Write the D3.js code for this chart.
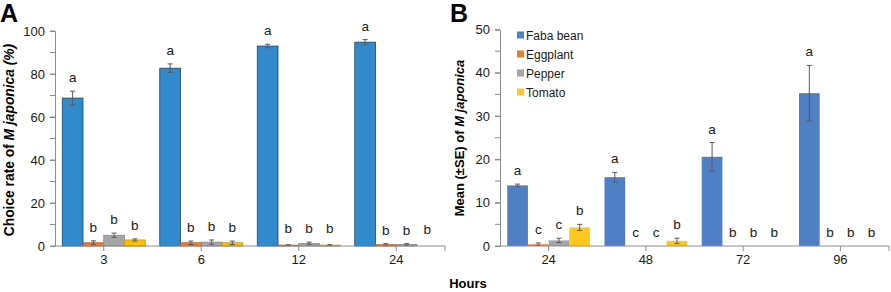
<!DOCTYPE html>
<html><head><meta charset="utf-8">
<script src="https://cdn.jsdelivr.net/npm/d3@7"></script>
<style>
body{margin:0;background:#fff;}
svg{display:block;font-family:"Liberation Sans",Arial,sans-serif;}
</style></head>
<body>
<svg id="c" width="891" height="292"></svg>
<script>
const series = ["Faba bean","Eggplant","Pepper","Tomato"];
// Panel A
const hoursA = ["3","6","12","24"];
const faba_A = [68.8, 82.7, 93.0, 94.8];
const eggplant_A = [1.5, 1.5, 0.4, 0.6];
const pepper_A = [5.0, 1.8, 1.2, 0.7];
const tomato_A = [2.8, 1.5, 0.4, 0.0];
const fabaErr_A = [3.2, 2.0, 0.8, 1.2];
const eggplantErr_A = [0.9, 0.8, 0.2, 0.5];
const pepperErr_A = [1.0, 1.0, 0.6, 0.4];
const tomatoErr_A = [0.5, 0.8, 0.2, 0.0];
const letters_A = [["a","b","b","b"],["a","b","b","b"],["a","b","b","b"],["a","b","b","b"]];
const ticksA = [0,20,40,60,80,100];
// Panel B
const hoursB = ["24","48","72","96"];
const faba_B = [14.0, 15.9, 20.6, 35.3];
const eggplant_B = [0.4, 0, 0, 0];
const pepper_B = [1.3, 0, 0, 0];
const tomato_B = [4.3, 1.2, 0, 0];
const fabaErr_B = [0.3, 1.1, 3.3, 6.4];
const eggplantErr_B = [0.3, 0, 0, 0];
const pepperErr_B = [0.5, 0, 0, 0];
const tomatoErr_B = [0.7, 0.6, 0, 0];
const letters_B = [["a","c","c","b"],["a","c","c","b"],["a","b","b","b"],["a","b","b","b"]];
const ticksB = [0,10,20,30,40,50];

const svg = d3.select("#c");
const axisCol = "#8c8c8c";
const textCol = "#1a1a1a";

function panel(cfg){
  const g = svg.append("g");
  const x0 = d3.scaleBand().domain(cfg.cats).range([cfg.x0, cfg.x1]).padding(0);
  const x1 = d3.scaleBand().domain(series).range([0, x0.bandwidth()]).paddingInner(0).paddingOuter(0.35);
  const y = d3.scaleLinear().domain([0, cfg.max]).range([246, cfg.yTop]);
  // minor ticks
  const minor = d3.range(0, cfg.max + 0.001, cfg.minorStep);
  g.selectAll(".mt").data(minor).join("line")
    .attr("x1", cfg.x0 - 5).attr("x2", cfg.x0).attr("y1", d=>y(d)).attr("y2", d=>y(d))
    .attr("stroke", axisCol).attr("stroke-width", 1);
  // y axis
  const ya = d3.axisLeft(y).tickValues(cfg.ticks).tickSize(5).tickPadding(5);
  const yg = g.append("g").attr("transform", `translate(${cfg.x0},0)`).call(ya);
  yg.select(".domain").attr("stroke", axisCol);
  yg.selectAll(".tick line").attr("stroke", axisCol);
  yg.selectAll("text").attr("font-size", 13).attr("fill", textCol);
  // bars
  const rows = cfg.cats.map((c,i)=>series.map((s,j)=>({c, s, i, j, v: cfg.vals[j][i], e: cfg.errs[j][i], l: cfg.letters[i][j]})));
  const flat = rows.flat();
  g.selectAll(".bar").data(flat).join("rect")
    .attr("x", d=>x0(d.c)+x1(d.s))
    .attr("width", x1.bandwidth())
    .attr("y", d=>y(d.v))
    .attr("height", d=>246 - y(d.v))
    .attr("fill", d=>cfg.colors[d.j])
    .attr("stroke", d=> cfg.stroke && d.v>0 ? cfg.strokes[d.j] : "none")
    .attr("stroke-width", 0.8);
  // error bars
  const eb = flat.filter(d=>d.e>0);
  const cx = d=>x0(d.c)+x1(d.s)+x1.bandwidth()/2;
  g.selectAll(".ev").data(eb).join("line")
    .attr("x1", cx).attr("x2", cx)
    .attr("y1", d=>y(d.v-d.e)).attr("y2", d=>y(d.v+d.e))
    .attr("stroke", "#5a5a5a").attr("stroke-width", 1);
  g.selectAll(".et").data(eb.flatMap(d=>[{d,v:d.v+d.e},{d,v:d.v-d.e}])).join("line")
    .attr("x1", o=>cx(o.d)-2.5).attr("x2", o=>cx(o.d)+2.5)
    .attr("y1", o=>y(o.v)).attr("y2", o=>y(o.v))
    .attr("stroke", "#5a5a5a").attr("stroke-width", 1);
  // letters
  g.selectAll(".lt").data(flat).join("text")
    .attr("x", cx)
    .attr("y", d=>y(d.v + d.e) - (d.v + d.e < 1 ? cfg.zeroOff : 9))
    .attr("text-anchor", "middle")
    .attr("font-size", 13.5).attr("fill", textCol)
    .text(d=>d.l);
  // x axis
  g.append("line").attr("x1", cfg.x0).attr("x2", cfg.x1).attr("y1", 246).attr("y2", 246)
    .attr("stroke", axisCol).attr("stroke-width", 1);
  const xt = cfg.cats.map(c=>x0(c)+x0.bandwidth()/2).concat([cfg.x1]);
  g.selectAll(".xt").data(xt).join("line")
    .attr("x1", d=>d).attr("x2", d=>d).attr("y1", 246).attr("y2", 251)
    .attr("stroke", axisCol);
  g.selectAll(".xl").data(cfg.cats).join("text")
    .attr("x", c=>x0(c)+x0.bandwidth()/2).attr("y", 264)
    .attr("text-anchor", "middle").attr("font-size", 13).attr("fill", textCol)
    .text(c=>c);
  // y label
  const yl = g.append("text")
    .attr("transform", `translate(${cfg.ylx},${cfg.yly}) rotate(-90)`)
    .attr("text-anchor", "middle").attr("font-size", cfg.ylfs).attr("font-weight", "bold").attr("fill", "#000");
  yl.append("tspan").text(cfg.ylab1);
  yl.append("tspan").attr("font-style", "italic").text(cfg.ylab2);
  // panel letter
  g.append("text").attr("x", cfg.px).attr("y", 22).attr("font-size", 25).attr("font-weight", "bold")
    .attr("fill", "#000").text(cfg.plabel);
  return {g, y};
}

panel({cats: hoursA, x0: 55, x1: 445, max: 100, yTop: 31, ticks: ticksA, minorStep: 10,
  vals: [faba_A, eggplant_A, pepper_A, tomato_A], errs: [fabaErr_A, eggplantErr_A, pepperErr_A, tomatoErr_A],
  letters: letters_A, colors: ["#318acc", "#ed7d31", "#a5a5a5", "#ffc000"],
  stroke: true, strokes: ["#1d4668", "#b85a1c", "#8a8a8a", "#c99800"], zeroOff: 12,
  ylx: 13.5, yly: 140, ylfs: 13.8, ylab1: "Choice rate of ", ylab2: "M japonica (%)", px: 0, plabel: "A"});

panel({cats: hoursB, x0: 500, x1: 889, max: 50, yTop: 29.5, ticks: ticksB, minorStep: 5,
  vals: [faba_B, eggplant_B, pepper_B, tomato_B], errs: [fabaErr_B, eggplantErr_B, pepperErr_B, tomatoErr_B],
  letters: letters_B, colors: ["#4f7fc5", "#ed7d31", "#a5a5a5", "#ffc91f"],
  stroke: false, strokes: [], zeroOff: 9,
  ylx: 464, yly: 138, ylfs: 13, ylab1: "Mean (±SE) of ", ylab2: "M japonica", px: 450, plabel: "B"});

// legend
const legColors = ["#4f7fc5", "#ed7d31", "#a5a5a5", "#ffc91f"];
const lg = svg.append("g").selectAll("g").data(series).join("g")
  .attr("transform", (d,i)=>`translate(517,${35 + i*19})`);
lg.append("rect").attr("x", 0).attr("y", -3.5).attr("width", 7).attr("height", 7).attr("fill", (d,i)=>legColors[i]);
lg.append("text").attr("x", 9).attr("y", 4.5).attr("font-size", 12).attr("fill", textCol).text(d=>d);

svg.append("text").attr("x", 468).attr("y", 288).attr("text-anchor", "middle")
  .attr("font-size", 13).attr("font-weight", "bold").attr("fill", "#000").text("Hours");
</script>
</body></html>
